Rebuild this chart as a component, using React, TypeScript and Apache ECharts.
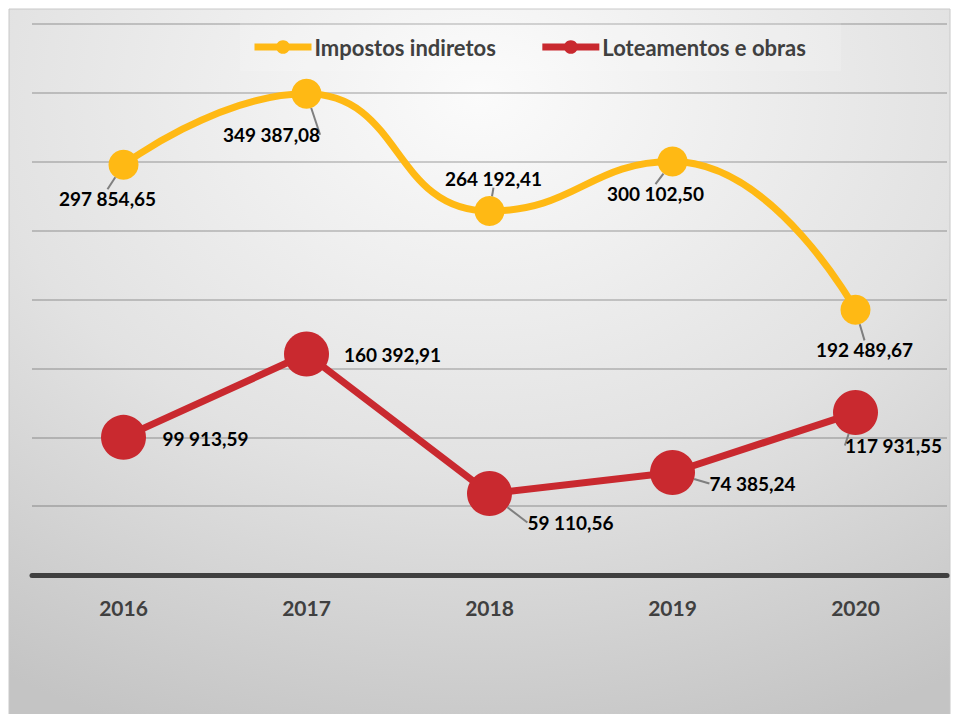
import React, { useEffect, useRef } from "react";
import * as echarts from "echarts";

const years = ["2016", "2017", "2018", "2019", "2020"];
const impostosIndiretos = [297854.65, 349387.08, 264192.41, 300102.5, 192489.67];
const loteamentosObras = [99913.59, 160392.91, 59110.56, 74385.24, 117931.55];
const yMin = 0;
const yMax = 400000;
const yStep = 50000;

// label shifts (px) relative to each point
const impostosShift = [[-16, 34], [-35, 41], [4, -33], [-17, 32], [9, 40]];
const loteShift = [[82, 1], [86, 0], [81, 29], [80, 11], [38, 33]];
const loteLeader = [false, false, true, true, true];

const fmt = (v: number) => {
  const [i, d] = v.toFixed(2).split(".");
  return i.replace(/\B(?=(\d{3})+(?!\d))/g, " ") + "," + d;
};

const FONT = "Lato";

export default function App() {
  const ref = useRef<HTMLDivElement>(null);
  useEffect(() => {
    if (!ref.current) return;
    const chart = echarts.init(ref.current, undefined, { renderer: "svg" });
    const labelBase = {
      show: true,
      position: "inside" as const,
      formatter: (p: any) => fmt(p.value),
      color: "#000",
      fontFamily: FONT,
      fontWeight: "bold" as const,
      fontSize: 19,
    };
    chart.setOption({
      animation: false,
      graphic: [
        {
          type: "rect",
          z: -100,
          silent: true,
          shape: { x: 9, y: 9, width: 941, height: 720 },
          style: {
            fill: new echarts.graphic.RadialGradient(0.5, 0.12, 0.95, [
              { offset: 0, color: "#fbfbfb" },
              { offset: 0.55, color: "#e2e2e2" },
              { offset: 1, color: "#c4c4c4" },
            ]),
            stroke: "#c8c8c8",
            lineWidth: 1,
          },
        },
      ],
      legend: {
        left: 240,
        top: 23,
        padding: [13, 35, 13, 11],
        backgroundColor: "rgba(255,255,255,0.15)",
        itemWidth: 57,
        itemHeight: 17,
        itemGap: 43,
        lineStyle: { width: 7 },
        textStyle: {
          fontFamily: FONT,
          fontWeight: "bold",
          fontSize: 22,
          color: "#404040",
          padding: [0, 0, 0, -2],
        },
        data: ["Impostos indiretos", "Loteamentos e obras"],
      },
      grid: { left: 32, right: 9, top: 24, bottom: 139, containLabel: false },
      xAxis: {
        type: "category",
        data: years,
        boundaryGap: true,
        axisTick: { show: false },
        axisLine: { lineStyle: { color: "#404040", width: 5 } },
        axisLabel: {
          margin: 22,
          fontFamily: FONT,
          fontWeight: "bold",
          fontSize: 21,
          color: "#404040",
        },
      },
      yAxis: {
        type: "value",
        min: yMin,
        max: yMax,
        interval: yStep,
        axisLabel: { show: false },
        axisLine: { show: false },
        axisTick: { show: false },
        splitLine: { lineStyle: { color: "rgba(0,0,0,0.18)", width: 2 } },
      },
      series: [
        {
          name: "Impostos indiretos",
          type: "line",
          smooth: 0.5,
          data: impostosIndiretos,
          symbol: "circle",
          symbolSize: 30,
          lineStyle: { color: "#FFB914", width: 7 },
          itemStyle: { color: "#FFB914" },
          label: labelBase,
          labelLine: { show: true, showAbove: true, lineStyle: { color: "#7f7f7f", width: 2 } },
          labelLayout: (p: any) => ({ dx: impostosShift[p.dataIndex][0], dy: impostosShift[p.dataIndex][1] }),
          z: 3,
        },
        {
          name: "Loteamentos e obras",
          type: "line",
          data: loteamentosObras.map((v, i) => ({
            value: v,
            labelLine: { show: loteLeader[i] },
          })),
          symbol: "circle",
          symbolSize: 45,
          lineStyle: { color: "#C9292F", width: 7 },
          itemStyle: { color: "#C9292F" },
          label: labelBase,
          labelLine: { show: true, showAbove: true, lineStyle: { color: "#7f7f7f", width: 2 } },
          labelLayout: (p: any) => ({ dx: loteShift[p.dataIndex][0], dy: loteShift[p.dataIndex][1] }),
          z: 2,
        },
      ],
    });
    return () => chart.dispose();
  }, []);
  return (
    <div
      ref={ref}
      style={{ position: "absolute", left: 0, top: 0, width: 956, height: 714 }}
    />
  );
}
